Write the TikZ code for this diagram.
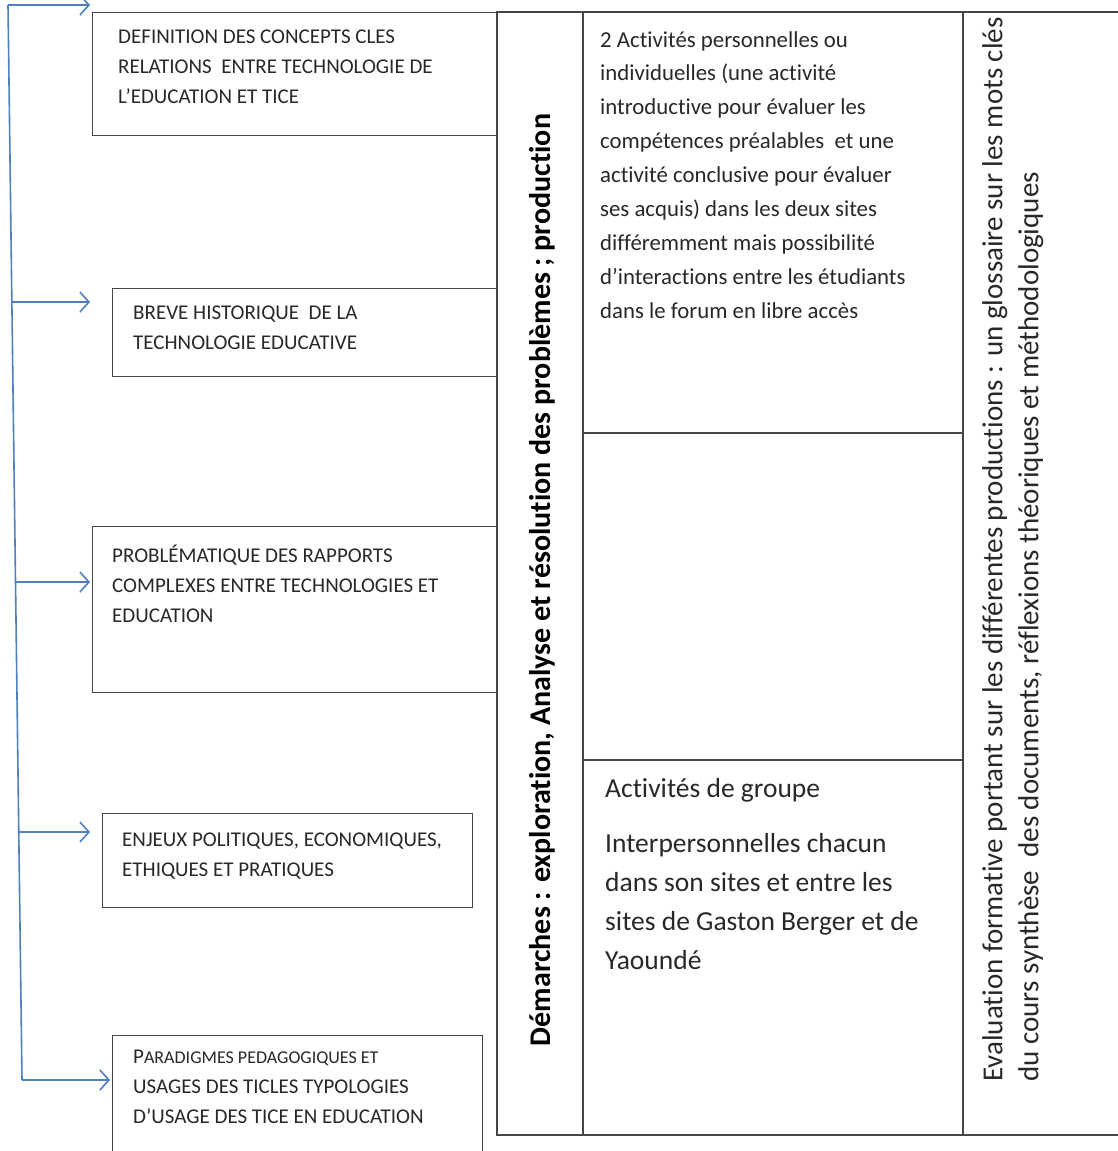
\documentclass[tikz,border=0pt]{standalone}
\usepackage{fontspec}
\setmainfont{Carlito}[Ligatures=CommonOff]
\usetikzlibrary{arrows.meta,positioning}
\definecolor{spineblue}{RGB}{79,129,189}
\definecolor{tablegrey}{RGB}{70,70,70}
\definecolor{textgrey}{RGB}{40,40,40}
\tikzset{
  topic/.style={draw=tablegrey, line width=1.4pt, rectangle, inner sep=0pt, anchor=north west},
  topictext/.style={anchor=north west, inner sep=0pt, align=left, text=textgrey, font=\fontsize{21}{29.8}\selectfont},
  celltext/.style={anchor=north west, inner sep=0pt, align=left, text=textgrey},
  arrow/.style={draw=spineblue, line width=1.6pt, -{Straight Barb[length=9pt,width=20pt,line width=1.6pt]}},
}

\begin{document}
\begin{tikzpicture}[x=1pt,y=-1pt]
    \clip (0,0) rectangle (1118,1151);
    \fill[white] (0,0) rectangle (1118,1151);

    % table
    \draw[tablegrey, line width=1.6pt] (497,12) rectangle (1130,1135);
    \draw[tablegrey, line width=1.6pt] (583,12) -- (583,1135);
    \draw[tablegrey, line width=1.6pt] (963,12) -- (963,1135);
    \draw[tablegrey, line width=1.2pt] (583,433) -- (963,433);
    \draw[tablegrey, line width=1.2pt] (583,760) -- (963,760);

    % topic boxes
    \node (b1) [topic, minimum width=405pt, minimum height=123pt] at (92,12) {};
    \node (b2) [topic, minimum width=385pt, minimum height=88pt] at (112,288) {};
    \node (b3) [topic, minimum width=405pt, minimum height=166pt] at (92,526) {};
    \node (b4) [topic, minimum width=370pt, minimum height=94pt] at (102,813) {};
    \node (b5) [topic, minimum width=370pt, minimum height=140pt] at (112,1035) {};

    \node (t1) [topictext] at (118,30) {DEFINITION DES CONCEPTS CLES\\RELATIONS\ \ ENTRE TECHNOLOGIE DE\\L'EDUCATION ET TICE};
    \node (t2) [topictext] at (133,306) {BREVE HISTORIQUE\ \ DE LA\\TECHNOLOGIE EDUCATIVE};
    \node (t3) [topictext] at (112,545) {PROBL\'EMATIQUE DES RAPPORTS\\COMPLEXES ENTRE TECHNOLOGIES ET\\EDUCATION};
    \node (t4) [topictext] at (122,833) {ENJEUX POLITIQUES, ECONOMIQUES,\\ETHIQUES ET PRATIQUES};
    \node (t5) [topictext] at (133,1050) {P{\fontsize{18}{29.8}\selectfont ARADIGMES PEDAGOGIQUES ET}\\USAGES DES TICLES TYPOLOGIES\\D'USAGE DES TICE EN EDUCATION};

    % spine and arrows
    \coordinate (sp1) at (8,5);
    \coordinate (sp2) at (12,302);
    \coordinate (sp3) at (16,582);
    \coordinate (sp4) at (19,832);
    \coordinate (sp5) at (22,1080);
    \coordinate (tip1) at (90,5);
    \coordinate (tip2) at (90,302);
    \coordinate (tip3) at (90,582);
    \coordinate (tip4) at (90,832);
    \coordinate (tip5) at (110,1080);
    \draw[spineblue, line width=1.6pt] (sp1) -- (sp5);
    \foreach \i in {1,...,5}
        \draw[arrow] (sp\i) -- (tip\i);

    % table texts
    \node (steps) [rotate=90, inner sep=0pt, text=black, font=\fontsize{30}{34}\selectfont\bfseries] at (542,580)
        {D\'emarches : exploration, Analyse et r\'esolution des probl\`emes ; production};
    \node (indiv) [celltext, font=\fontsize{22.8}{33.9}\selectfont] at (600,31)
        {2 Activit\'es personnelles ou\\individuelles (une activit\'e\\introductive pour \'evaluer les\\comp\'etences pr\'ealables\ \ et une\\activit\'e conclusive pour \'evaluer\\ses acquis) dans les deux sites\\diff\'eremment mais possibilit\'e\\d'interactions entre les \'etudiants\\dans le forum en libre acc\`es};
    \node (group) [celltext, font=\fontsize{27.5}{39}\selectfont] at (605,778)
        {Activit\'es de groupe\\[16pt]Interpersonnelles chacun\\dans son sites et entre les\\sites de Gaston Berger et de\\Yaound\'e};
    \node (eval) [rotate=90, anchor=north west, inner sep=0pt, align=left, text=textgrey, font=\fontsize{29}{36}\selectfont] at (982,1082)
        {Evaluation formative portant sur les diff\'erentes productions : un glossaire sur les mots cl\'es\\du cours synth\`ese\ \ des documents, r\'eflexions th\'eoriques et m\'ethodologiques};
\end{tikzpicture}
\end{document}
